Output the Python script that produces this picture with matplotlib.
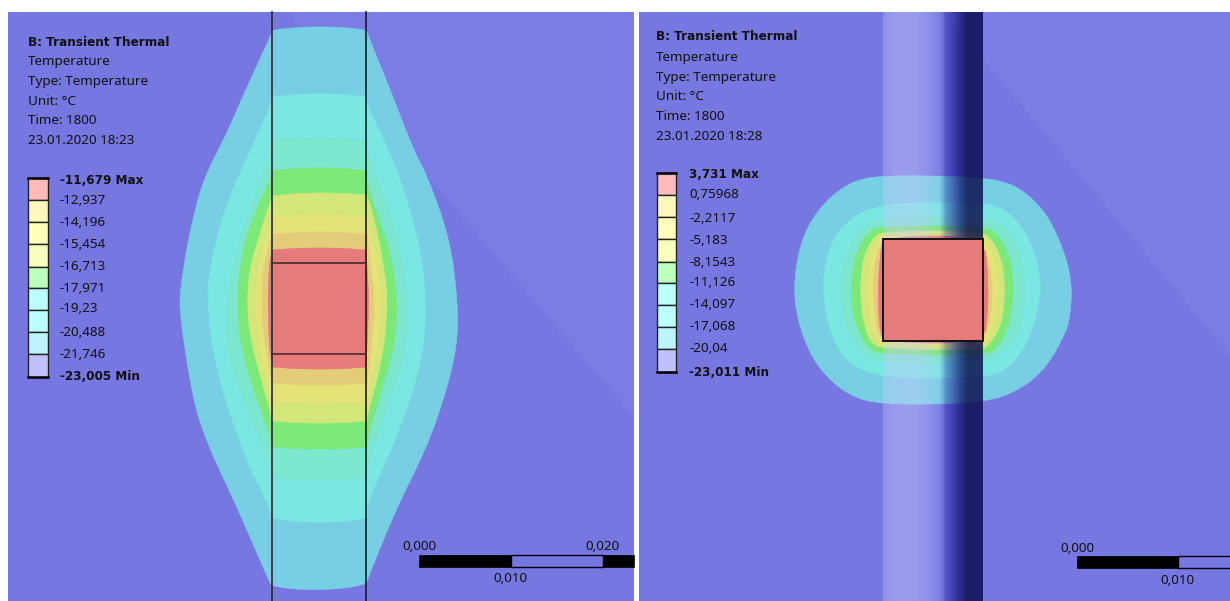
import matplotlib
matplotlib.use('Agg')
import matplotlib.pyplot as plt
import numpy as np
from matplotlib.patches import Polygon, Rectangle

# цвета зон, от внешней к внутренней
band_colors = ['#78CFE3', '#7AE7E3', '#7CE6CE', '#7CE878', '#D3E67A', '#E5E378', '#E3CD78', '#E57B7B']
legend_colors = ['#FFBBBB', '#FFF7BB', '#FFFFBB', '#F8FFBB', '#BBFFBB', '#BBFFFF', '#BBFFFF', '#BBF4FF', '#C0C0FF']

header_left = ['Temperature', 'Type: Temperature', 'Unit: °C', 'Time: 1800', '23.01.2020 18:23']
header_right = ['Temperature', 'Type: Temperature', 'Unit: °C', 'Time: 1800', '23.01.2020 18:28']
labels_left = ['-11,679 Max', '-12,937', '-14,196', '-15,454', '-16,713', '-17,971', '-19,23', '-20,488', '-21,746', '-23,005 Min']
labels_right = ['3,731 Max', '0,75968', '-2,2117', '-5,183', '-8,1543', '-11,126', '-14,097', '-17,068', '-20,04', '-23,011 Min']

# контуры зон (пиксели)
bands_left = [
    [(272,30),(300,27),(340,27),(367,30),(367,33),(390,89),(413,149),(427,175),(450,239),(458,305),(457,345),(447,389),(427,447),(397,507),(367,580),(367,584),(340,589),(300,590),(272,586),(270,583),(237,507),(207,443),(193,400),(180,317),(180,290),(190,230),(203,180),(227,133),(247,87),(272,33)],
    [(272,97),(272,97),(300,94),(340,94),(367,97),(367,97),(367,105),(393,159),(410,209),(423,262),(426,312),(423,355),(403,423),(367,503),(367,518),(367,518),(340,522),(300,522),(272,518),(272,518),(272,513),(242,450),(215,367),(207,300),(210,267),(223,213),(247,157),(272,103)],
    [(272,140),(272,140),(300,138),(340,138),(367,140),(367,140),(367,152),(390,212),(403,262),(409,312),(405,355),(393,389),(367,467),(367,477),(367,477),(340,480),(300,480),(272,477),(272,477),(272,467),(247,410),(228,357),(225,300),(242,233),(257,190),(272,147)],
    [(272,171),(272,171),(300,168),(340,168),(367,171),(367,171),(367,185),(380,222),(393,262),(398,312),(393,352),(383,385),(367,440),(367,447),(367,447),(340,449),(300,449),(272,447),(272,447),(272,440),(242,357),(237,300),(242,253),(253,217),(272,177)],
    [(272,196),(272,196),(300,193),(340,193),(367,195),(367,195),(367,197),(373,213),(383,260),(388,300),(383,357),(367,417),(367,421),(367,421),(340,423),(300,423),(272,421),(272,421),(272,417),(250,340),(247,300),(250,267),(260,233),(272,197)],
    [(272,216),(272,216),(300,215),(340,215),(367,216),(367,216),(367,217),(377,260),(382,300),(378,343),(367,400),(367,402),(367,402),(340,403),(300,403),(272,402),(272,402),(272,400),(258,343),(255,300),(258,267),(272,217)],
    [(272,234),(272,234),(300,232),(340,232),(367,234),(367,234),(370,263),(375,300),(372,343),(367,380),(367,383),(367,383),(340,385),(300,385),(272,383),(272,383),(272,382),(263,333),(262,300),(263,267)],
    [(272,250),(272,250),(300,248),(340,248),(366,250),(366,250),(367,267),(369,300),(367,347),(366,367),(366,367),(340,369),(300,369),(272,367),(272,367),(269,343),(268,300),(269,267)],
]
bands_right = [
    [(793,290),(800,243),(817,210),(847,183),(880,175),(980,177),(1013,184),(1033,199),(1050,219),(1067,259),(1072,289),(1070,315),(1067,330),(1047,367),(1020,390),(983,403),(883,405),(847,395),(817,367),(800,330)],
    [(822,290),(827,253),(843,223),(880,203),(980,202),(1007,210),(1027,233),(1040,270),(1040,303),(1028,343),(1007,370),(980,378),(883,378),(847,363),(830,333)],
    [(839,290),(845,257),(860,227),(883,217),(980,217),(1007,227),(1020,253),(1026,290),(1022,327),(1007,350),(980,363),(883,363),(860,353),(845,323)],
    [(850,290),(855,257),(867,232),(883,226),(980,226),(997,232),(1010,257),(1014,290),(1010,323),(997,350),(980,355),(883,355),(867,348),(855,323)],
    [(860,290),(863,257),(873,238),(883,231),(980,231),(993,240),(1003,263),(1005,293),(1002,323),(990,345),(980,350),(883,349),(870,342),(863,320)],
    [(867,290),(870,257),(877,242),(883,235),(980,235),(988,243),(997,267),(998,293),(995,323),(987,342),(980,345),(883,345),(875,337),(870,320)],
    [(873,290),(875,260),(883,239),(980,239),(985,250),(992,277),(992,303),(988,330),(982,341),(883,341),(877,330)],
    [(878,290),(880,257),(883,236),(984,236),(988,277),(988,310),(984,343),(883,343),(879,323)],
]

# тень цилиндра на правой картинке: x, цвет наложения, прозрачность
column_x = [883, 893, 915, 927, 938, 945, 953, 960, 967, 982]
column_rgb = [(205,205,255), (205,205,255), (205,205,255), (205,205,255), (205,205,255), (10,10,142), (10,10,130), (10,10,103), (5,5,72), (5,5,72)]
column_alpha = [0.28, 0.42, 0.42, 0.30, 0.12, 0.31, 0.52, 0.70, 0.80, 0.80]

plt.rcParams['font.family'] = ['Noto Sans', 'DejaVu Sans']
fig = plt.figure(figsize=(12.3, 6.01), dpi=100, facecolor='white')
ax = fig.add_axes([0, 0, 1, 1])
ax.axis('off')


def smooth(pts, n=2):
    # срезаем углы, чтобы контур был плавным
    p = np.array(pts, dtype=float)
    for _ in range(n):
        q = np.roll(p, -1, axis=0)
        p = np.column_stack((0.75 * p + 0.25 * q, 0.25 * p + 0.75 * q)).reshape(-1, 2)
    return p


def draw_bands(bands):
    for pts, col in zip(bands, band_colors):
        ax.add_patch(Polygon(smooth(pts), closed=True, fc=col, ec=col, lw=0.4, zorder=2))


def label(x, y, s, bold=False, ha='left'):
    if bold:
        ax.text(x, y + 4.5, s, fontsize=8.65, fontweight='bold', family='DejaVu Sans', color='#111111', ha=ha, va='baseline', zorder=6)
    else:
        ax.text(x, y + 4.5, s, fontsize=9.7, color='#111111', ha=ha, va='baseline', zorder=6)


def draw_legend(x_text, y_title, y_lines, header, bar_x, bar_w, seps, labels, x_lab, y_labs):
    label(x_text, y_title, 'B: Transient Thermal', bold=True)
    for s, y in zip(header, y_lines):
        label(x_text, y, s)
    for i, col in enumerate(legend_colors):
        ax.add_patch(Rectangle((bar_x, seps[i]), bar_w, seps[i + 1] - seps[i], fc=col, ec='#222222', lw=1.0, zorder=6))
    ax.plot([bar_x, bar_x + bar_w], [seps[0], seps[0]], color='black', lw=1.8, zorder=7)
    ax.plot([bar_x, bar_x + bar_w], [seps[-1], seps[-1]], color='black', lw=1.8, zorder=7)
    for i, (s, y) in enumerate(zip(labels, y_labs)):
        label(x_lab, y, s, bold=(i == 0 or i == len(labels) - 1))


def scale_bar(x0, x1, x2, x3, y0, y1, labels):
    ax.add_patch(Rectangle((x0, y0), x1 - x0, y1 - y0, fc='black', ec='black', lw=0.5, zorder=6))
    ax.add_patch(Rectangle((x1, y0), x2 - x1, y1 - y0, fc='none', ec='black', lw=1.0, zorder=6))
    if x3 > x2:
        ax.add_patch(Rectangle((x2, y0), x3 - x2, y1 - y0, fc='black', ec='black', lw=0.5, zorder=6))
    for s, x, y in labels:
        label(x, y, s, ha='center')


# левая панель
ax.add_patch(Rectangle((8, 12), 626, 589, fc='#7777E2', ec='none', zorder=0))
ax.add_patch(Polygon([(287, 12), (634, 12), (634, 417)], closed=True, fc='#7C7CE5', ec='none', zorder=1))
draw_bands(bands_left)
ax.plot([272, 272], [12, 601], color='#2A2A33', lw=1.2, zorder=4)
ax.plot([365.5, 365.5], [12, 601], color='#1A1A22', lw=1.2, zorder=4)
ax.plot([272, 365.5], [263, 263], color='#4A2A30', lw=1.2, zorder=4)
ax.plot([272, 365.5], [354, 354], color='#4A2A30', lw=1.2, zorder=4)
draw_legend(27.5, 41.5, [61, 81, 100.5, 120, 139.5], header_left, 28, 20,
            [178, 200, 222, 244, 267, 288, 310, 332, 354, 377], labels_left, 60,
            [179, 200, 222, 243, 266, 287, 308, 331, 353, 375])
scale_bar(419, 511, 603, 634, 555, 567, [('0,000', 419, 546), ('0,020', 602, 546), ('0,010', 510, 578)])

# правая панель
ax.add_patch(Rectangle((639, 12), 591, 589, fc='#7777E2', ec='none', zorder=0))
ax.add_patch(Polygon([(944, 12), (1230, 12), (1230, 356)], closed=True, fc='#7C7CE5', ec='none', zorder=1))
draw_bands(bands_right)
xs = np.arange(883, 983)
over = np.zeros((1, len(xs), 4))
for k in range(3):
    over[0, :, k] = np.interp(xs, column_x, [c[k] / 255 for c in column_rgb])
over[0, :, 3] = np.interp(xs, column_x, column_alpha)
ax.imshow(over, extent=(883, 982.5, 601, 12), interpolation='nearest', aspect='auto', zorder=3)
ax.add_patch(Rectangle((883, 239), 99.5, 101.5, fc='#E57B7B', ec='#111111', lw=1.4, zorder=4))
draw_legend(656, 36, [56, 76, 96, 115, 135], header_right, 657, 19,
            [173, 195, 217, 239, 262, 283, 305, 327, 349, 372], labels_right, 689,
            [174, 194, 217, 239, 261, 282, 304, 326, 348, 371])
scale_bar(1077, 1178, 1232, 0, 556, 568, [('0,000', 1077, 547), ('0,010', 1177, 579)])

ax.set_xlim(0, 1230)
ax.set_ylim(601, 0)
fig.savefig('out.png', dpi=100, facecolor='white')
